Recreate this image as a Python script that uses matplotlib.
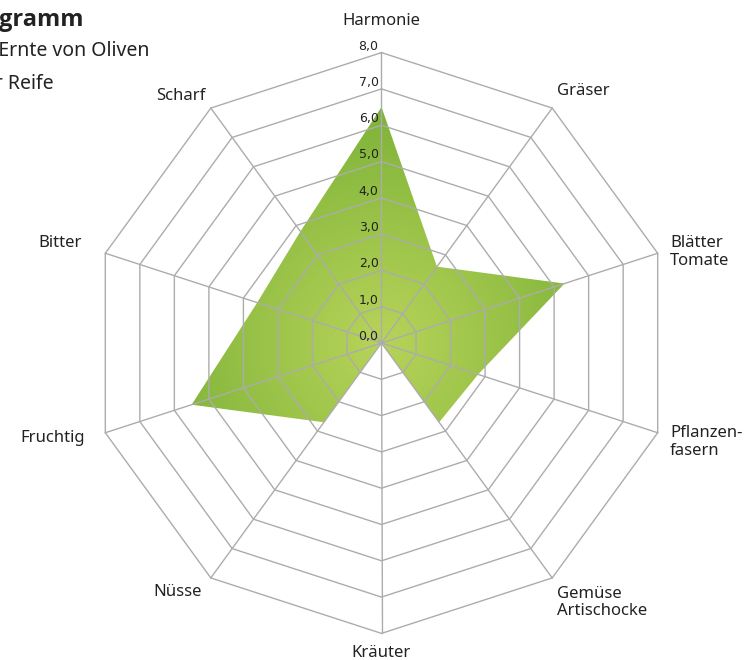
import numpy as np
import matplotlib
matplotlib.use('Agg')
import matplotlib.pyplot as plt
from matplotlib.patches import Polygon

# data
kategorien = ['Harmonie', 'Gräser', 'Blätter\nTomate', 'Pflanzen-\nfasern', 'Gemüse\nArtischocke',
              'Kräuter', 'Nüsse', 'Fruchtig', 'Bitter', 'Scharf']
werte = [6.5, 2.6, 5.3, 2.8, 2.7, 0.0, 2.7, 5.5, 3.6, 3.8]
stufen = [0, 1, 2, 3, 4, 5, 6, 7, 8]
stufen_labels = ['0,0', '1,0', '2,0', '3,0', '4,0', '5,0', '6,0', '7,0', '8,0']

plt.rcParams['font.family'] = ['Noto Sans', 'DejaVu Sans']

W, H = 746, 660
fig = plt.figure(figsize=(W / 100, H / 100), dpi=100)
ax = fig.add_axes([0, 0, 1, 1])
px = 36.3  # pixel je Einheit
cx, cy = 381.5, 660 - 343
ax.set_xlim(-cx / px, (W - cx) / px)
ax.set_ylim(-cy / px, (H - cy) / px)
ax.set_aspect('equal')
ax.axis('off')

n = len(kategorien)
winkel = np.arange(n) * 2 * np.pi / n
sx, sy = np.sin(winkel), np.cos(winkel)

# gefuellte Flaeche mit radialem Verlauf
w = np.array(werte)
poly = Polygon(np.column_stack([w * sx, w * sy]), closed=True, facecolor='none', edgecolor='none')
ax.add_patch(poly)
xx, yy = np.meshgrid(np.linspace(-8, 8, 400), np.linspace(-8, 8, 400))
rr = np.clip(np.hypot(xx, yy) / 6.5, 0, 1)
innen = np.array([0.72, 0.83, 0.35])
aussen = np.array([0.49, 0.70, 0.22])
img = innen[None, None, :] * (1 - rr[..., None]) + aussen[None, None, :] * rr[..., None]
im = ax.imshow(img, extent=(-8, 8, -8, 8), origin='lower', zorder=1, interpolation='bilinear')
im.set_clip_path(poly)

# Netz
grau = '#acacac'
for s in stufen[1:]:
    ax.plot(np.append(s * sx, s * sx[0]), np.append(s * sy, s * sy[0]), color=grau, lw=1.0, zorder=2)
for i in range(n):
    ax.plot([0, 8 * sx[i]], [0, 8 * sy[i]], color=grau, lw=1.0, zorder=2)

for s, lab in zip(stufen, stufen_labels):
    ax.text(-0.08, s + 0.18, lab, ha='right', va='center', fontsize=9, color='#222222',
            family=['Liberation Sans Narrow', 'DejaVu Sans'], zorder=3)

# Beschriftungen
pos = [(0, 8.87, 'center', 'center'),
       (4.83, 6.94, 'left', 'center'),
       (7.95, 2.5, 'left', 'center'),
       (7.95, -2.73, 'left', 'center'),
       (4.83, -7.15, 'left', 'center'),
       (0, -8.54, 'center', 'center'),
       (-4.94, -6.87, 'right', 'center'),
       (-8.17, -2.61, 'right', 'center'),
       (-8.25, 2.76, 'right', 'center'),
       (-4.84, 6.8, 'right', 'center')]
for lab, (x, y, ha, va) in zip(kategorien, pos):
    ax.text(x, y, lab, ha=ha, va=va, fontsize=12, color='#222222', linespacing=1.15)

# Titel (links abgeschnitten)
fig.text(84 / W, 1 - 20 / H, 'Aromadiagramm', ha='right', va='center', fontsize=17,
         fontweight='bold', family=['Open Sans', 'DejaVu Sans'], color='#222222')
fig.text(150 / W, 1 - 51 / H, 'Frühe Ernte von Oliven', ha='right', va='center', fontsize=14,
         color='#222222')
fig.text(54 / W, 1 - 84 / H, 'voller Reife', ha='right', va='center', fontsize=14,
         color='#222222')

fig.savefig('out.png', dpi=100, facecolor='white')
